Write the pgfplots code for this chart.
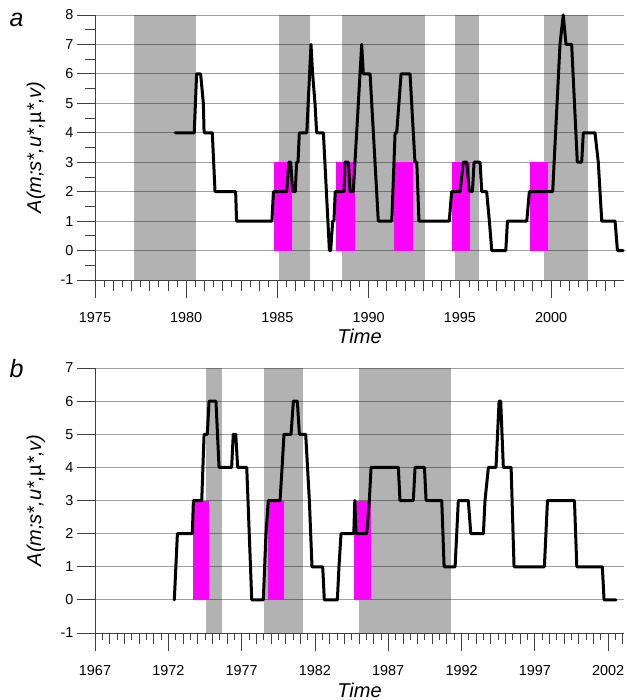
\documentclass[border=0pt]{standalone}
\usepackage{pgfplots}
\pgfplotsset{compat=1.18}
\usepackage{fontspec}
\setmainfont{Liberation Sans}
\definecolor{gridgray}{HTML}{A0A0A0}
\definecolor{axgray}{HTML}{404040}
\definecolor{mag}{HTML}{FF00FF}
\pgfplotsset{
  mystyle/.style={
    scale only axis, width=529pt, height=265pt,
    axis x line*=bottom, axis y line*=left,
    axis line style={axgray, line width=0.8pt},
    tick align=outside,
    every tick/.style={axgray, line width=0.8pt},
    ymajorgrids, grid style={gridgray, line width=0.8pt},
    major tick length=18pt, minor tick length=7pt,
    /pgf/number format/assume math mode=true,
    /pgf/number format/1000 sep={},
    tick label style={font=\fontsize{14.4}{17}\selectfont},
    xticklabel style={anchor=center, yshift=-20pt},
    yticklabel style={anchor=east},
    extra x tick style={major tick length=11pt, grid=none},
    extra y tick style={major tick length=10pt, grid=none},
    xlabel={Time},
    ylabel={A(m;s*,u*,\upshape µ\itshape *,v)},
    every axis x label/.style={at={(axis description cs:0.5,-0.212)}, anchor=center, font=\fontsize{20}{24}\selectfont\itshape},
    every axis y label/.style={at={(axis description cs:-0.1115,0.5)}, anchor=center, rotate=90, font=\fontsize{20}{24}\selectfont\itshape},
    clip=false,
  },
  band/.style={fill=black, fill opacity=0.3, draw=none},
  mband/.style={fill=mag, draw=none},
  ser/.style={black, line width=3pt, line join=round, line cap=round},
}
\begin{document}
\begin{tikzpicture}[x=1pt,y=1pt]
\useasboundingbox (0,0) rectangle (626,700);
\node[anchor=base west, font=\fontsize{25}{30}\selectfont\itshape] at (6,673) {a};
\node[anchor=base west, font=\fontsize{25}{30}\selectfont\itshape] at (6,322) {b};
% ---------------- panel a
\begin{axis}[mystyle, at={(95pt,420pt)}, anchor=south west,
  xmin=1975, xmax=2004, ymin=-1, ymax=8,
  xtick={1975,1980,...,2000},
  extra x ticks={1976,1977,1978,1979,1981,1982,1983,1984,1986,1987,1988,1989,1991,1992,1993,1994,1996,1997,1998,1999,2001,2002,2003},
  extra x tick labels={},
  minor xtick={1975.5,1976.5,...,2003.5},
  ytick={-1,0,...,8},
  extra y ticks={-0.5,0.5,...,7.5}, extra y tick labels={},
]
\addplot[band] coordinates {(1977.15,-1) (1977.15,8) (1980.54,8) (1980.54,-1)} --cycle;
\addplot[band] coordinates {(1985.09,-1) (1985.09,8) (1986.79,8) (1986.79,-1)} --cycle;
\addplot[band] coordinates {(1988.52,-1) (1988.52,8) (1993.09,8) (1993.09,-1)} --cycle;
\addplot[band] coordinates {(1994.74,-1) (1994.74,8) (1996.05,8) (1996.05,-1)} --cycle;
\addplot[band] coordinates {(1999.62,-1) (1999.62,8) (2002.03,8) (2002.03,-1)} --cycle;
\addplot[mband] coordinates {(1984.81,0) (1984.81,3) (1985.78,3) (1985.78,0)} --cycle;
\addplot[mband] coordinates {(1988.23,0) (1988.23,3) (1989.25,3) (1989.25,0)} --cycle;
\addplot[mband] coordinates {(1991.39,0) (1991.39,3) (1992.42,3) (1992.42,0)} --cycle;
\addplot[mband] coordinates {(1994.57,0) (1994.57,3) (1995.56,3) (1995.56,0)} --cycle;
\addplot[mband] coordinates {(1998.85,0) (1998.85,3) (1999.82,3) (1999.82,0)} --cycle;
\addplot[ser] coordinates {
(1979.39,4) (1980.44,4) (1980.57,6) (1980.79,6) (1980.94,5) (1980.98,4) (1981.43,4) (1981.58,2) (1982.71,2) (1982.76,1) (1984.70,1) (1984.78,2) (1985.51,2) (1985.62,3) (1985.73,3) (1985.84,2) (1985.98,2) (1986.05,3) (1986.13,3) (1986.20,4) (1986.61,4) (1986.84,7) (1986.93,6) (1987.06,5) (1987.15,4) (1987.52,4) (1987.85,0) (1987.92,0) (1988.03,1) (1988.10,1) (1988.17,2) (1988.65,2) (1988.70,3) (1988.89,3) (1988.98,2) (1989.16,2) (1989.62,7) (1989.71,6) (1990.08,6) (1990.53,1) (1991.27,1) (1991.45,4) (1991.54,4) (1991.78,6) (1992.27,6) (1992.54,3) (1992.64,3) (1992.76,1) (1994.42,1) (1994.55,2) (1995.01,2) (1995.19,3) (1995.38,3) (1995.52,2) (1995.69,2) (1995.78,3) (1996.11,3) (1996.20,2) (1996.47,2) (1996.62,1) (1996.75,0) (1997.52,0) (1997.61,1) (1998.67,1) (1998.81,2) (2000.09,2) (2000.49,7) (2000.67,8) (2000.82,7) (2001.13,7) (2001.44,3) (2001.68,3) (2001.77,4) (2002.41,4) (2002.59,3) (2002.78,1) (2003.51,1) (2003.64,0) (2003.96,0)
};
\end{axis}
% ---------------- panel b
\begin{axis}[mystyle, at={(95pt,67pt)}, anchor=south west,
  xmin=1967, xmax=2003.08, ymin=-1, ymax=7,
  xtick={1967,1972,...,2002},
  extra x ticks={1968,1969,1970,1971,1973,1974,1975,1976,1978,1979,1980,1981,1983,1984,1985,1986,1988,1989,1990,1991,1993,1994,1995,1996,1998,1999,2000,2001,2003},
  extra x tick labels={},
  minor xtick={1967.5,1968.5,...,2002.5},
  ytick={-1,0,...,7},
  every axis x label/.style={at={(axis description cs:0.5,-0.215)}, anchor=center, font=\fontsize{20}{24}\selectfont\itshape},
]
\addplot[band] coordinates {(1974.57,-1) (1974.57,7) (1975.66,7) (1975.66,-1)} --cycle;
\addplot[band] coordinates {(1978.53,-1) (1978.53,7) (1981.17,7) (1981.17,-1)} --cycle;
\addplot[band] coordinates {(1985.01,-1) (1985.01,7) (1991.28,7) (1991.28,-1)} --cycle;
\addplot[mband] coordinates {(1973.71,0) (1973.71,3) (1974.78,3) (1974.78,0)} --cycle;
\addplot[mband] coordinates {(1978.80,0) (1978.80,3) (1979.87,3) (1979.87,0)} --cycle;
\addplot[mband] coordinates {(1984.69,0) (1984.69,3) (1985.83,3) (1985.83,0)} --cycle;
\addplot[ser] coordinates {
(1972.41,0) (1972.62,2) (1973.64,2) (1973.71,3) (1974.28,3) (1974.44,5) (1974.66,5) (1974.78,6) (1975.25,6) (1975.46,4) (1976.32,4) (1976.43,5) (1976.60,5) (1976.73,4) (1977.35,4) (1977.69,0) (1978.48,0) (1978.66,2) (1978.82,3) (1979.62,3) (1979.76,4) (1979.89,5) (1980.37,5) (1980.53,6) (1980.80,6) (1980.94,5) (1981.37,5) (1981.62,3) (1981.80,1) (1982.53,1) (1982.64,0) (1983.53,0) (1983.64,1) (1983.78,2) (1984.65,2) (1984.72,3) (1984.80,2) (1985.53,2) (1985.71,3) (1985.83,4) (1987.69,4) (1987.80,3) (1988.71,3) (1988.83,4) (1989.47,4) (1989.58,3) (1990.65,3) (1990.81,1) (1991.56,1) (1991.67,2) (1991.78,3) (1992.46,3) (1992.63,2) (1993.49,2) (1993.60,3) (1993.83,4) (1994.35,4) (1994.56,6) (1994.67,6) (1994.85,4) (1995.38,4) (1995.58,1) (1997.65,1) (1997.86,3) (1999.70,3) (1999.86,1) (2001.60,1) (2001.72,0) (2002.54,0)
};
\end{axis}
\end{tikzpicture}
\end{document}
